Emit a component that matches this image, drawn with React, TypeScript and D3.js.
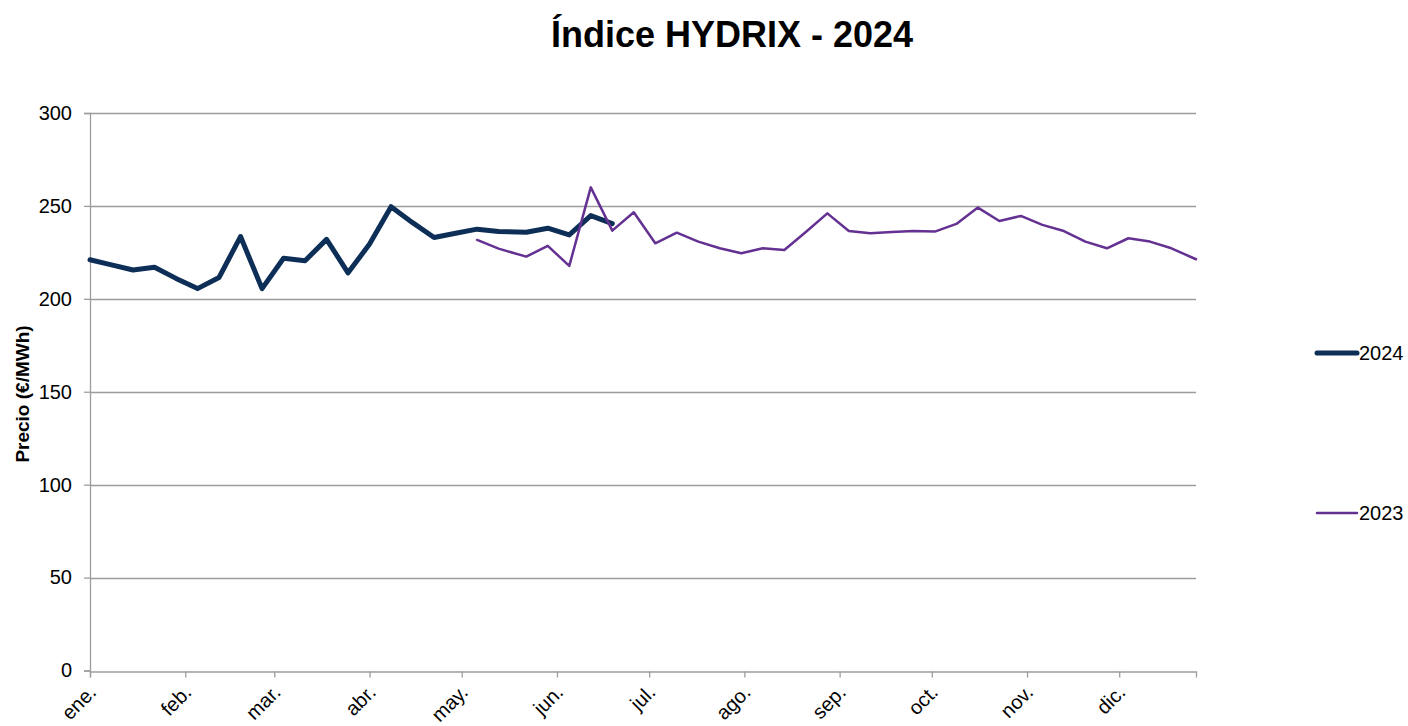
import React, { useRef, useEffect } from 'react';
import * as d3 from 'd3';

// weekly dates (2024 axis) shared by both series
const dates = [
  '2024-01-01', '2024-01-08', '2024-01-15', '2024-01-22', '2024-01-29', '2024-02-05', '2024-02-12',
  '2024-02-19', '2024-02-26', '2024-03-04', '2024-03-11', '2024-03-18', '2024-03-25', '2024-04-01',
  '2024-04-08', '2024-04-15', '2024-04-22', '2024-04-29', '2024-05-06', '2024-05-13', '2024-05-22',
  '2024-05-29', '2024-06-05', '2024-06-12', '2024-06-19', '2024-06-26', '2024-07-03', '2024-07-10',
  '2024-07-17', '2024-07-24', '2024-07-31', '2024-08-07', '2024-08-14', '2024-08-21', '2024-08-28',
  '2024-09-04', '2024-09-11', '2024-09-18', '2024-09-25', '2024-10-02', '2024-10-09', '2024-10-16',
  '2024-10-23', '2024-10-30', '2024-11-06', '2024-11-13', '2024-11-20', '2024-11-27', '2024-12-04',
  '2024-12-11', '2024-12-18', '2024-12-26',
];

// null = no value for that week
const values2024 = [
  221, 218.3, 215.5, 217, 211, 205.5, 211.5, 233.5, 205.5, 221.8, 220.5, 232, 214, 229.5,
  249.6, 241, 233, 235.3, 237.5, 236.2, 235.8, 238, 234.4, 244.8, 240.5,
  null, null, null, null, null, null, null, null, null, null, null, null, null, null, null,
  null, null, null, null, null, null, null, null, null, null, null, null,
];

const values2023 = [
  null, null, null, null, null, null, null, null, null, null, null, null, null, null, null,
  null, null, null, 231.7, 227, 222.7, 228.5, 217.7, 260, 236.7, 246.6, 229.9, 235.6, 230.8,
  227.2, 224.5, 227.2, 226.3, 236, 246, 236.5, 235.3, 236, 236.5, 236.2, 240.3, 249.1, 241.9,
  244.6, 239.8, 236.5, 230.8, 227.2, 232.6, 230.8, 227.2, 221.3,
];

const monthLabels = ['ene.', 'feb.', 'mar.', 'abr.', 'may.', 'jun.', 'jul.', 'ago.', 'sep.', 'oct.', 'nov.', 'dic.'];
const yTicks = [0, 50, 100, 150, 200, 250, 300];

const series = [
  { name: '2024', values: values2024, color: '#0d2f57', width: 5, legendY: 353 },
  { name: '2023', values: values2023, color: '#643192', width: 2.5, legendY: 513 },
];

function App() {
  const svgRef = useRef(null);

  useEffect(() => {
    const svg = d3.select(svgRef.current);
    svg.selectAll('*').remove();

    const width = 1408;
    const height = 726;
    const margin = { left: 90, right: 212, top: 113, bottom: 55 };
    const font = 'Liberation Sans, Arial, sans-serif';
    const grey = '#9d9d9d';

    const parse = d3.timeParse('%Y-%m-%d');
    const xDates = dates.map(d => parse(d));

    const x = d3.scaleTime()
      .domain(d3.extent(xDates))
      .range([margin.left, width - margin.right]);

    const y = d3.scaleLinear()
      .domain([0, 300])
      .range([height - margin.bottom - 0.5, margin.top]);

    // title
    svg.append('text')
      .attr('x', 732).attr('y', 47)
      .attr('text-anchor', 'middle')
      .style('font-family', font).style('font-weight', 'bold').style('font-size', '36px')
      .text('Índice HYDRIX - 2024');

    // gridlines
    svg.append('g')
      .selectAll('line')
      .data(yTicks.filter(t => t > 0))
      .join('line')
      .attr('x1', margin.left).attr('x2', width - margin.right)
      .attr('y1', d => Math.round(y(d)) + 0.5).attr('y2', d => Math.round(y(d)) + 0.5)
      .attr('stroke', grey).attr('stroke-width', 1.3);

    // y axis
    const yAxis = svg.append('g')
      .attr('transform', `translate(${margin.left},0)`)
      .call(d3.axisLeft(y).tickValues(yTicks).tickSize(6).tickPadding(12));
    yAxis.select('.domain').attr('stroke', grey).attr('stroke-width', 1.3);
    yAxis.selectAll('.tick line').attr('stroke', grey).attr('stroke-width', 1.3);
    yAxis.selectAll('.tick text')
      .style('font-family', font).style('font-size', '20px').attr('fill', '#000');

    // x axis, rotated month labels
    const monthTicks = d3.range(12).map(m => new Date(2024, m, 1));
    const xAxis = svg.append('g')
      .attr('transform', `translate(0,${Math.round(y(0)) + 0.5})`)
      .call(d3.axisBottom(x).tickValues(monthTicks).tickSize(6).tickFormat((d, i) => monthLabels[i]));
    xAxis.select('.domain').attr('stroke', grey).attr('stroke-width', 1.3);
    xAxis.selectAll('.tick line').attr('stroke', grey).attr('stroke-width', 1.3);
    xAxis.selectAll('.tick text')
      .style('font-family', font).style('font-size', '20px').attr('fill', '#000')
      .attr('text-anchor', 'end')
      .attr('x', 0).attr('y', 0).attr('dy', 0)
      .attr('transform', 'translate(7,22) rotate(-45)');

    // y axis title
    svg.append('text')
      .attr('transform', `translate(29,394) rotate(-90)`)
      .attr('text-anchor', 'middle')
      .style('font-family', font).style('font-weight', 'bold').style('font-size', '19px')
      .text('Precio (€/MWh)');

    // lines
    const line = d3.line()
      .defined(d => d[1] != null)
      .x(d => x(d[0]))
      .y(d => y(d[1]));

    series.forEach(s => {
      const pts = xDates.map((d, i) => [d, s.values[i]]);
      svg.append('path')
        .datum(pts)
        .attr('d', line)
        .attr('fill', 'none')
        .attr('stroke', s.color)
        .attr('stroke-width', s.width)
        .attr('stroke-linejoin', 'round')
        .attr('stroke-linecap', 'round');

      // legend
      svg.append('line')
        .attr('x1', 1317).attr('x2', 1357)
        .attr('y1', s.legendY).attr('y2', s.legendY)
        .attr('stroke', s.color).attr('stroke-width', s.width)
        .attr('stroke-linecap', 'round');
      svg.append('text')
        .attr('x', 1359).attr('y', s.legendY + 7)
        .style('font-family', font).style('font-size', '20px')
        .text(s.name);
    });
  }, []);

  return (
    <div style={{ position: 'absolute', left: 0, top: 0 }}>
      <svg ref={svgRef} width={1408} height={726} style={{ display: 'block', background: '#fff' }}></svg>
    </div>
  );
}

export default App;
